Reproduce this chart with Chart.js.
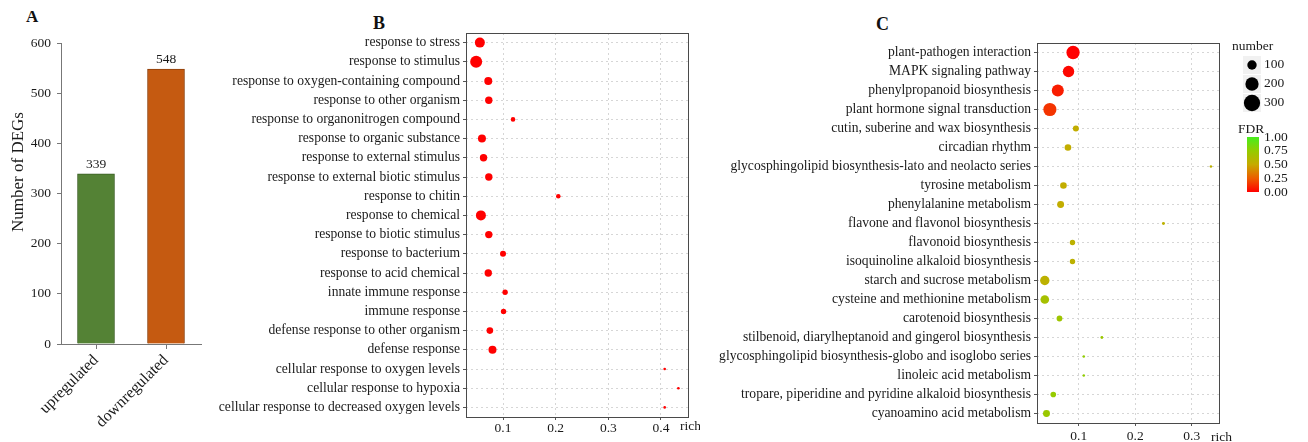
<!DOCTYPE html>
<html>
<head>
<meta charset="utf-8">
<script src="https://cdn.jsdelivr.net/npm/chart.js@4.4.1/dist/chart.umd.min.js"></script>
<style>
  body { margin: 0; background: #fff; width: 1308px; height: 442px; position: relative; overflow: hidden; font-family: "Liberation Serif", "Times New Roman", serif; }
  canvas { position: absolute; top: 0; }
  .tag { position: absolute; font-weight: bold; line-height: 1; color: #111; }
</style>
</head>
<body>
<div class="tag" style="left:26px;top:8px;font-size:17px">A</div>
<div class="tag" style="left:373px;top:14px;font-size:18px">B</div>
<div class="tag" style="left:876px;top:15px;font-size:18px">C</div>
<canvas id="chartA" width="205" height="442" style="left:0"></canvas>
<canvas id="chartB" width="500" height="442" style="left:200px"></canvas>
<canvas id="chartC" width="608" height="442" style="left:700px"></canvas>
<script>
// panel A
const groups = ['upregulated', 'downregulated'];
const degCounts = [339, 548];

// panel B - GO terms
const termsB = [
  'response to stress', 'response to stimulus', 'response to oxygen-containing compound',
  'response to other organism', 'response to organonitrogen compound', 'response to organic substance',
  'response to external stimulus', 'response to external biotic stimulus', 'response to chitin',
  'response to chemical', 'response to biotic stimulus', 'response to bacterium',
  'response to acid chemical', 'innate immune response', 'immune response',
  'defense response to other organism', 'defense response', 'cellular response to oxygen levels',
  'cellular response to hypoxia', 'cellular response to decreased oxygen levels'
];
const richB = [0.056, 0.049, 0.072, 0.073, 0.119, 0.060, 0.063, 0.073, 0.205, 0.058,
               0.073, 0.100, 0.072, 0.104, 0.101, 0.075, 0.080, 0.407, 0.433, 0.407];
const countB = [100, 144, 64, 55, 21, 64, 55, 55, 21, 100, 55, 36, 55, 29, 29, 44, 64, 7, 7, 7];

// panel C - KEGG pathways
const termsC = [
  'plant-pathogen interaction', 'MAPK signaling pathway', 'phenylpropanoid biosynthesis',
  'plant hormone signal transduction', 'cutin, suberine and wax biosynthesis', 'circadian rhythm',
  'glycosphingolipid biosynthesis-lato and neolacto series', 'tyrosine metabolism',
  'phenylalanine metabolism', 'flavone and flavonol biosynthesis', 'flavonoid biosynthesis',
  'isoquinoline alkaloid biosynthesis', 'starch and sucrose metabolism',
  'cysteine and methionine metabolism', 'carotenoid biosynthesis',
  'stilbenoid, diarylheptanoid and gingerol biosynthesis',
  'glycosphingolipid biosynthesis-globo and isoglobo series', 'linoleic acid metabolism',
  'tropare, piperidine and pyridine alkaloid biosynthesis', 'cyanoamino acid metabolism'
];
const richC = [0.090, 0.082, 0.063, 0.049, 0.095, 0.081, 0.334, 0.073, 0.068, 0.250,
               0.089, 0.089, 0.040, 0.040, 0.066, 0.141, 0.109, 0.109, 0.055, 0.043];
const countC = [200, 147, 163, 195, 41, 50, 7, 50, 55, 10, 33, 33, 100, 85, 38, 9, 7, 7, 36, 55];
const fdrC = [0.00, 0.02, 0.08, 0.14, 0.52, 0.52, 0.55, 0.52, 0.52, 0.55,
              0.55, 0.55, 0.55, 0.66, 0.70, 0.72, 0.76, 0.76, 0.74, 0.72];
const sizeLegend = [100, 200, 300];
const fdrLegend = [1.00, 0.75, 0.50, 0.25, 0.00];

Chart.defaults.font.family = '"Liberation Serif", "Times New Roman", serif';
Chart.defaults.color = '#1a1a1a';

const FONT = '"Liberation Serif", "Times New Roman", serif';
const gradStops = [[0, [255, 0, 0]], [0.25, [236, 92, 0]], [0.5, [198, 170, 0]], [0.75, [148, 204, 0]], [1, [70, 238, 30]]];

function fdrColor(v) {
  for (let i = 1; i < gradStops.length; i++) {
    const [p1, c1] = gradStops[i];
    const [p0, c0] = gradStops[i - 1];
    if (v <= p1) {
      const t = (v - p0) / (p1 - p0);
      const c = c0.map((a, k) => Math.round(a + (c1[k] - a) * t));
      return `rgb(${c[0]},${c[1]},${c[2]})`;
    }
  }
  return 'rgb(70,238,30)';
}

// box round the plotting area
const frame = {
  id: 'frame',
  afterDraw(chart) {
    const { left, top, right, bottom } = chart.chartArea;
    const ctx = chart.ctx;
    ctx.save();
    ctx.strokeStyle = '#4a4a4a';
    ctx.lineWidth = 1;
    ctx.strokeRect(Math.round(left) + 0.5, Math.round(top) + 0.5, Math.round(right - left), Math.round(bottom - top));
    ctx.restore();
  }
};

// "rich" next to the x tick labels
const richLabel = {
  id: 'richLabel',
  afterDraw(chart, args, opts) {
    const ctx = chart.ctx;
    ctx.save();
    ctx.font = '13.5px ' + FONT;
    ctx.fillStyle = '#1a1a1a';
    ctx.textBaseline = 'middle';
    ctx.fillText('rich', chart.chartArea.right - 8, opts.y);
    ctx.restore();
  }
};

// ---- A ----
const barLabels = {
  id: 'barLabels',
  afterDatasetsDraw(chart) {
    const ctx = chart.ctx;
    ctx.save();
    ctx.font = '13.5px ' + FONT;
    ctx.fillStyle = '#1a1a1a';
    ctx.textAlign = 'center';
    ctx.textBaseline = 'bottom';
    chart.getDatasetMeta(0).data.forEach((bar, i) => {
      ctx.fillText(degCounts[i], bar.x, bar.y - 3);
    });
    // y title
    ctx.translate(19, 172);
    ctx.rotate(-Math.PI / 2);
    ctx.font = '17px ' + FONT;
    ctx.textBaseline = 'middle';
    ctx.fillText('Number of DEGs', 0, 0);
    ctx.restore();
  }
};

new Chart(document.getElementById('chartA'), {
  type: 'bar',
  data: {
    labels: groups,
    datasets: [{
      data: degCounts,
      backgroundColor: ['#548235', '#c55a11'],
      borderColor: ['#3a5e24', '#8d400c'],
      borderWidth: 1,
      barThickness: 37
    }]
  },
  options: {
    responsive: false,
    animation: false,
    layout: { padding: { top: 43, right: 4 } },
    plugins: { legend: { display: false }, tooltip: { enabled: false } },
    scales: {
      x: {
        grid: { drawOnChartArea: false, offset: false, tickLength: 5, tickColor: '#777' },
        border: { color: '#777' },
        ticks: { minRotation: 45, maxRotation: 45, font: { size: 16 }, color: '#1a1a1a', padding: 2 },
        afterFit: (s) => { s.height = 98; }
      },
      y: {
        min: 0, max: 600,
        grid: { drawOnChartArea: false, tickLength: 4, tickColor: '#777' },
        border: { color: '#777' },
        ticks: { stepSize: 100, font: { size: 13.5 }, color: '#1a1a1a', padding: 6 },
        afterFit: (s) => { s.width = 61; }
      }
    }
  },
  plugins: [barLabels]
});

// ---- B ----
new Chart(document.getElementById('chartB'), {
  type: 'bubble',
  data: {
    datasets: [{
      data: termsB.map((t, i) => ({ x: richB[i], y: t, r: 0.5 * Math.sqrt(countB[i]) })),
      backgroundColor: '#ff0000',
      borderWidth: 0
    }]
  },
  options: {
    responsive: false,
    animation: false,
    layout: { padding: { top: 33, right: 12 } },
    plugins: { legend: { display: false }, tooltip: { enabled: false }, richLabel: { y: 426 } },
    scales: {
      x: {
        type: 'linear', min: 0.0297, max: 0.4513,
        afterBuildTicks: (s) => { s.ticks = [0.1, 0.2, 0.3, 0.4].map(v => ({ value: v })); },
        ticks: { font: { size: 13.5 }, color: '#1a1a1a', padding: 0, callback: v => v.toFixed(1) },
        grid: { color: '#d6d6d6', tickColor: '#555', tickLength: 3 },
        border: { display: false, dash: [2, 3] },
        afterFit: (s) => { s.height = 25; }
      },
      y: {
        type: 'category', labels: termsB, offset: true,
        ticks: { font: { size: 13.6 }, color: '#1a1a1a', padding: 3, autoSkip: false },
        grid: { color: '#d6d6d6', tickColor: '#555', tickLength: 3 },
        border: { display: false, dash: [2, 3] },
        afterFit: (s) => { s.width = 266; }
      }
    }
  },
  plugins: [frame, richLabel]
});

// ---- C ----
const legendC = {
  id: 'legendC',
  afterDraw(chart) {
    const ctx = chart.ctx;
    const ox = 700;
    ctx.save();
    ctx.font = '13.5px ' + FONT;
    ctx.fillStyle = '#1a1a1a';
    ctx.textBaseline = 'middle';
    ctx.fillText('number', 1232 - ox, 46);
    sizeLegend.forEach((n, i) => {
      const cy = 65 + i * 19;
      ctx.fillStyle = '#f1f1f1';
      ctx.fillRect(1243 - ox, cy - 9, 18, 18);
      ctx.fillStyle = '#000';
      ctx.beginPath();
      ctx.arc(1252 - ox, cy, 0.47 * Math.sqrt(n), 0, Math.PI * 2);
      ctx.fill();
      ctx.fillStyle = '#1a1a1a';
      ctx.fillText(String(n), 1264 - ox, cy - 1);
    });
    ctx.fillText('FDR', 1238 - ox, 129);
    const top = 137, bot = 192, x0 = 1247 - ox;
    const g = ctx.createLinearGradient(0, bot, 0, top);
    gradStops.forEach(([p]) => g.addColorStop(p, fdrColor(p)));
    ctx.fillStyle = g;
    ctx.fillRect(x0, top, 12, bot - top);
    ctx.fillStyle = '#1a1a1a';
    fdrLegend.forEach(v => {
      ctx.fillText(v.toFixed(2), 1264 - ox, bot - v * (bot - top));
    });
    ctx.restore();
  }
};

new Chart(document.getElementById('chartC'), {
  type: 'bubble',
  data: {
    datasets: [{
      data: termsC.map((t, i) => ({ x: richC[i], y: t, r: 0.47 * Math.sqrt(countC[i]) })),
      backgroundColor: fdrC.map(fdrColor),
      borderWidth: 0
    }]
  },
  options: {
    responsive: false,
    animation: false,
    layout: { padding: { top: 43, right: 89 } },
    plugins: { legend: { display: false }, tooltip: { enabled: false }, richLabel: { y: 437 } },
    scales: {
      x: {
        type: 'linear', min: 0.0262, max: 0.3483,
        afterBuildTicks: (s) => { s.ticks = [0.1, 0.2, 0.3].map(v => ({ value: v })); },
        ticks: { font: { size: 13.5 }, color: '#1a1a1a', padding: 2, callback: v => v.toFixed(1) },
        grid: { color: '#d6d6d6', tickColor: '#555', tickLength: 3 },
        border: { display: false, dash: [2, 3] },
        afterFit: (s) => { s.height = 19; }
      },
      y: {
        type: 'category', labels: termsC, offset: true,
        ticks: { font: { size: 13.6 }, color: '#1a1a1a', padding: 3, autoSkip: false },
        grid: { color: '#d6d6d6', tickColor: '#555', tickLength: 3 },
        border: { display: false, dash: [2, 3] },
        afterFit: (s) => { s.width = 337; }
      }
    }
  },
  plugins: [frame, richLabel, legendC]
});
</script>
</body>
</html>
